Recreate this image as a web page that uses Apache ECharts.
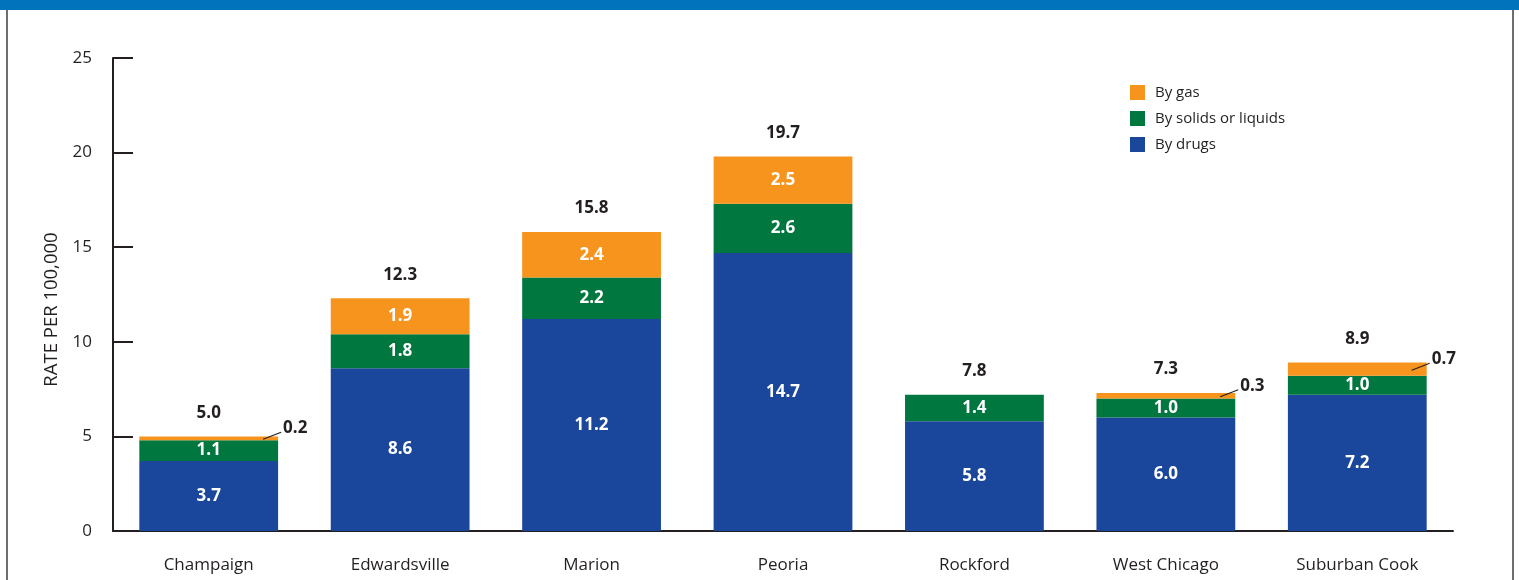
<!DOCTYPE html>
<html>
<head>
<meta charset="utf-8">
<script src="https://cdn.jsdelivr.net/npm/echarts@6/dist/echarts.min.js"></script>
<style>
  html, body { margin: 0; padding: 0; background: #fff; }
  .frame { position: relative; width: 1519px; height: 580px; overflow: hidden; }
  .frame .band { position: absolute; left: 0; top: 0; width: 1519px; height: 10px; background: #0073bd; }
  .frame .side-l { position: absolute; left: 6px; top: 10px; width: 2px; height: 570px; background: #6d6e70; }
  .frame .side-r { position: absolute; left: 1512px; top: 10px; width: 2px; height: 570px; background: #6d6e70; }
  #chart { position: absolute; left: 0; top: 0; width: 1519px; height: 580px; }
</style>
</head>
<body>
<div class="frame">
  <div class="band"></div>
  <div class="side-l"></div>
  <div class="side-r"></div>
  <div id="chart"></div>
</div>
<script>
  var categories = ['Champaign', 'Edwardsville', 'Marion', 'Peoria', 'Rockford', 'West Chicago', 'Suburban Cook']
  var byDrugs = [3.7, 8.6, 11.2, 14.7, 5.8, 6.0, 7.2]
  var bySolids = [1.1, 1.8, 2.2, 2.6, 1.4, 1.0, 1.0]
  var byGas = [0.2, 1.9, 2.4, 2.5, 0, 0.3, 0.7]
  var totals = [5.0, 12.3, 15.8, 19.7, 7.8, 7.3, 8.9]

  var colors = {
    gas: '#f7941d',
    solids: '#00773f',
    drugs: '#1a469b'
  }
  var textColor = '#231f20'
  var fontName = 'Open Sans'
  var gapRatio = 0.275

  // 堆叠高度，用于放置总数标签
  var stackTops = categories.map(function(c, i) {
    return byDrugs[i] + bySolids[i] + byGas[i]
  })

  // 太小的燃气值放到柱子右侧，用引线标出
  var callouts = []
  byGas.forEach(function(v, i) {
    if (v > 0 && v < 1) callouts.push([i, byDrugs[i] + bySolids[i] + v / 2, v])
  })

  var insideLabel = {
    show: true,
    position: 'inside',
    color: '#fff',
    fontFamily: fontName,
    fontWeight: 'bold',
    fontSize: 17,
    formatter: function(p) { return p.value.toFixed(1) }
  }

  var gasData = byGas.map(function(v) {
    if (v < 1) return { value: v, label: { show: false } }
    return { value: v }
  })

  var chart = echarts.init(document.getElementById('chart'))
  var options = {
    animation: false,
    textStyle: { fontFamily: fontName },
    grid: {
      left: 113,
      right: 66,
      top: 58,
      bottom: 49
    },
    legend: {
      orient: 'vertical',
      left: 1125,
      top: 80,
      itemWidth: 15,
      itemHeight: 15,
      itemGap: 11,
      icon: 'rect',
      data: ['By gas', 'By solids or liquids', 'By drugs'],
      textStyle: { color: textColor, fontSize: 15, fontFamily: fontName, padding: [0, 0, 0, 5] }
    },
    xAxis: {
      type: 'category',
      data: categories,
      axisLine: { lineStyle: { color: '#231f20', width: 2 } },
      axisTick: { inside: true, length: 11, lineStyle: { color: '#231f20', width: 2 } },
      axisLabel: { color: textColor, fontSize: 17, margin: 26 }
    },
    yAxis: {
      type: 'value',
      min: 0,
      max: 25,
      interval: 5,
      name: 'RATE PER 100,000',
      nameLocation: 'middle',
      nameGap: 46,
      nameTextStyle: { color: textColor, fontSize: 18.5, padding: [0, 0, 0, -30] },
      axisLine: { show: true, lineStyle: { color: '#231f20', width: 2 } },
      axisTick: { show: true, inside: true, length: 20, lineStyle: { color: '#231f20', width: 2 } },
      axisLabel: { color: textColor, fontSize: 17, margin: 21 },
      splitLine: { show: false }
    },
    series: [
      {
        name: 'By drugs',
        type: 'bar',
        stack: 'total',
        barCategoryGap: (gapRatio * 100) + '%',
        itemStyle: { color: colors.drugs },
        label: insideLabel,
        data: byDrugs
      },
      {
        name: 'By solids or liquids',
        type: 'bar',
        stack: 'total',
        itemStyle: { color: colors.solids },
        label: insideLabel,
        data: bySolids
      },
      {
        name: 'By gas',
        type: 'bar',
        stack: 'total',
        itemStyle: { color: colors.gas },
        label: insideLabel,
        data: gasData
      },
      {
        name: 'totals',
        type: 'scatter',
        symbolSize: 0,
        silent: true,
        itemStyle: { opacity: 1 },
        label: {
          show: true,
          position: 'top',
          distance: 15,
          color: textColor,
          opacity: 1,
          fontWeight: 'bold',
          fontSize: 17,
          formatter: function(p) { return totals[p.dataIndex].toFixed(1) }
        },
        data: stackTops
      },
      {
        name: 'callouts',
        type: 'custom',
        silent: true,
        encode: { x: 0, y: 1 },
        renderItem: function(params, api) {
          var p = api.coord([api.value(0), api.value(1)])
          var band = api.size([1, 0])[0]
          var right = p[0] + band * (1 - gapRatio) / 2
          return {
            type: 'group',
            children: [
              {
                type: 'line',
                shape: { x1: right - 15, y1: p[1] + 1, x2: right + 3, y2: p[1] - 6 },
                style: { stroke: textColor, lineWidth: 1.2 }
              },
              {
                type: 'text',
                style: {
                  x: right + 5,
                  y: p[1] - 10,
                  text: api.value(2).toFixed(1),
                  fill: textColor,
                  font: 'bold 17px "Open Sans"',
                  align: 'left',
                  verticalAlign: 'middle'
                }
              }
            ]
          }
        },
        data: callouts,
        z: 5
      }
    ]
  }
  chart.setOption(options)
</script>
</body>
</html>
